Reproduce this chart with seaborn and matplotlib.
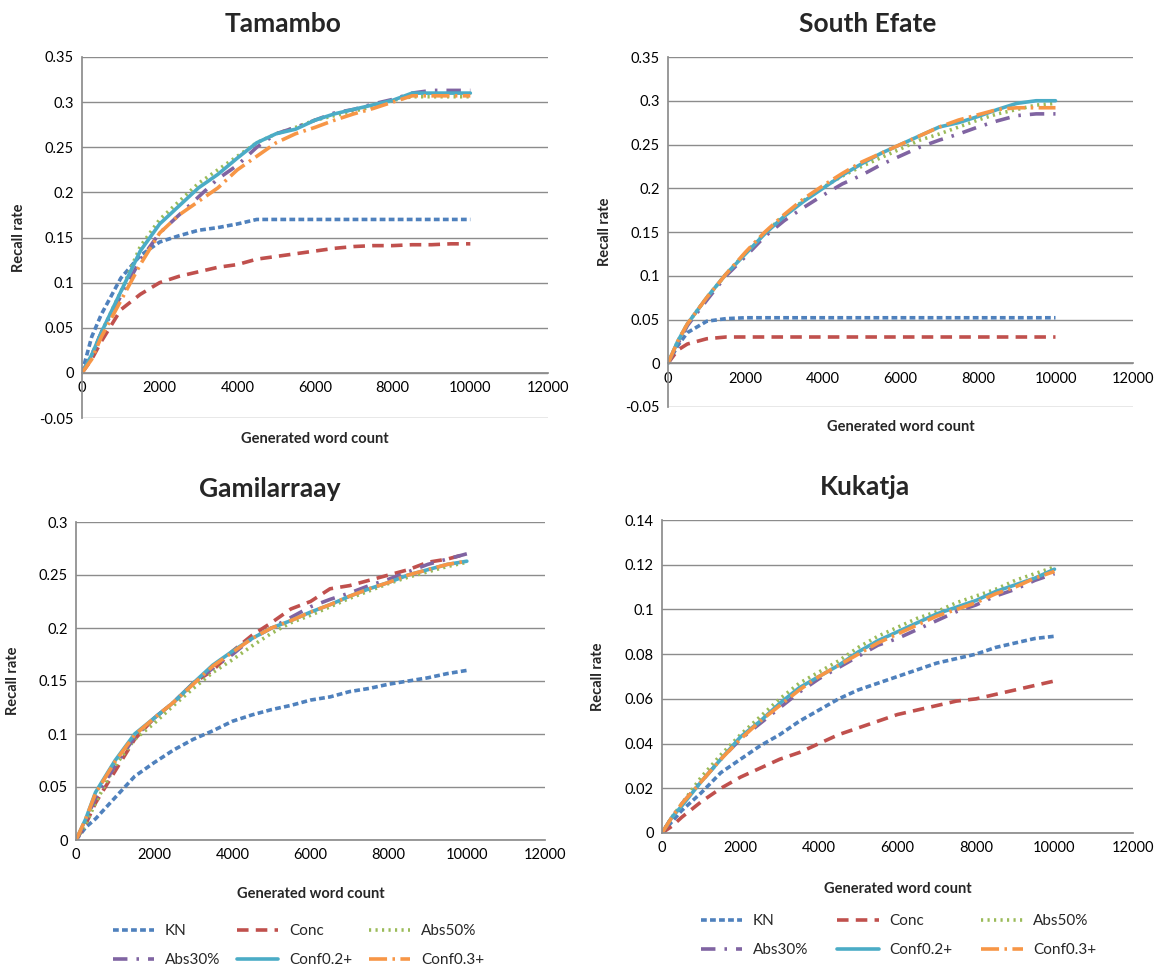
import pandas as pd
import matplotlib
matplotlib.use("Agg")
import matplotlib.pyplot as plt
import seaborn as sns

# word counts sampled along each curve
word_count = [0, 250, 500, 1000, 1500, 2000, 2500, 3000, 3500, 4000, 4500,
              5000, 5500, 6000, 6500, 7000, 7500, 8000, 8500, 9000, 9500, 10000]

methods = ["KN", "Conc", "Abs50%", "Abs30%", "Conf0.2+", "Conf0.3+"]

# Tamambo
tam_kn = [0, 0.04, 0.065, 0.105, 0.13, 0.145, 0.152, 0.158, 0.161, 0.165, 0.17,
          0.17, 0.17, 0.17, 0.17, 0.17, 0.17, 0.17, 0.17, 0.17, 0.17, 0.17]
tam_conc = [0, 0.015, 0.035, 0.07, 0.087, 0.1, 0.107, 0.112, 0.117, 0.12, 0.126,
            0.129, 0.132, 0.135, 0.138, 0.14, 0.141, 0.141, 0.142, 0.142, 0.143, 0.143]
tam_abs50 = [0, 0.02, 0.045, 0.09, 0.14, 0.17, 0.19, 0.21, 0.225, 0.24, 0.255,
             0.265, 0.272, 0.28, 0.285, 0.29, 0.295, 0.302, 0.306, 0.306, 0.306, 0.306]
tam_abs30 = [0, 0.02, 0.045, 0.085, 0.125, 0.155, 0.175, 0.195, 0.215, 0.23, 0.25,
             0.265, 0.272, 0.28, 0.288, 0.292, 0.298, 0.303, 0.31, 0.313, 0.313, 0.313]
tam_conf2 = [0, 0.02, 0.045, 0.09, 0.135, 0.165, 0.185, 0.205, 0.22, 0.238, 0.255,
             0.265, 0.27, 0.28, 0.287, 0.292, 0.297, 0.302, 0.31, 0.31, 0.31, 0.31]
tam_conf3 = [0, 0.015, 0.04, 0.08, 0.12, 0.155, 0.175, 0.19, 0.205, 0.225, 0.24,
             0.255, 0.265, 0.272, 0.28, 0.287, 0.293, 0.3, 0.307, 0.307, 0.307, 0.307]

# South Efate
se_kn = [0, 0.02, 0.035, 0.048, 0.051, 0.052, 0.052, 0.052, 0.052, 0.052, 0.052,
         0.052, 0.052, 0.052, 0.052, 0.052, 0.052, 0.052, 0.052, 0.052, 0.052, 0.052]
se_conc = [0, 0.015, 0.022, 0.028, 0.03, 0.03, 0.03, 0.03, 0.03, 0.03, 0.03,
           0.03, 0.03, 0.03, 0.03, 0.03, 0.03, 0.03, 0.03, 0.03, 0.03, 0.03]
se_abs50 = [0, 0.025, 0.045, 0.075, 0.102, 0.126, 0.149, 0.169, 0.186, 0.201, 0.214,
            0.225, 0.235, 0.245, 0.255, 0.262, 0.27, 0.278, 0.285, 0.29, 0.295, 0.297]
se_abs30 = [0, 0.022, 0.043, 0.072, 0.1, 0.122, 0.145, 0.163, 0.178, 0.192, 0.205,
            0.215, 0.227, 0.237, 0.247, 0.255, 0.262, 0.27, 0.277, 0.283, 0.285, 0.285]
se_conf2 = [0, 0.025, 0.045, 0.075, 0.102, 0.125, 0.148, 0.168, 0.185, 0.2, 0.215,
            0.228, 0.24, 0.25, 0.26, 0.27, 0.275, 0.282, 0.29, 0.297, 0.3, 0.3]
se_conf3 = [0, 0.025, 0.045, 0.075, 0.102, 0.127, 0.15, 0.17, 0.188, 0.203, 0.217,
            0.23, 0.24, 0.25, 0.26, 0.27, 0.278, 0.284, 0.29, 0.292, 0.292, 0.292]

# Gamilarraay
gam_kn = [0, 0.012, 0.02, 0.04, 0.06, 0.073, 0.085, 0.095, 0.103, 0.112, 0.118,
          0.123, 0.127, 0.132, 0.135, 0.14, 0.143, 0.147, 0.15, 0.153, 0.157, 0.16]
gam_conc = [0, 0.015, 0.035, 0.065, 0.095, 0.115, 0.13, 0.148, 0.16, 0.178, 0.193,
            0.205, 0.218, 0.225, 0.237, 0.24, 0.245, 0.25, 0.255, 0.262, 0.265, 0.27]
gam_abs50 = [0, 0.015, 0.035, 0.07, 0.095, 0.11, 0.127, 0.143, 0.158, 0.17, 0.183,
             0.195, 0.205, 0.212, 0.22, 0.228, 0.235, 0.242, 0.248, 0.253, 0.258, 0.262]
gam_abs30 = [0, 0.018, 0.04, 0.07, 0.097, 0.115, 0.13, 0.148, 0.162, 0.175, 0.19,
             0.2, 0.21, 0.22, 0.227, 0.233, 0.24, 0.246, 0.253, 0.26, 0.265, 0.27]
gam_conf2 = [0, 0.02, 0.045, 0.075, 0.1, 0.115, 0.13, 0.148, 0.165, 0.178, 0.19,
             0.2, 0.207, 0.215, 0.222, 0.23, 0.237, 0.243, 0.25, 0.255, 0.26, 0.263]
gam_conf3 = [0, 0.02, 0.044, 0.074, 0.099, 0.115, 0.13, 0.147, 0.164, 0.177, 0.19,
             0.2, 0.207, 0.215, 0.222, 0.23, 0.237, 0.243, 0.25, 0.255, 0.26, 0.263]

# Kukatja
kuk_kn = [0, 0.005, 0.01, 0.018, 0.027, 0.033, 0.039, 0.044, 0.05, 0.055, 0.06,
          0.064, 0.067, 0.07, 0.073, 0.076, 0.078, 0.08, 0.083, 0.085, 0.087, 0.088]
kuk_conc = [0, 0.003, 0.007, 0.014, 0.02, 0.025, 0.029, 0.033, 0.036, 0.04, 0.044,
            0.047, 0.05, 0.053, 0.055, 0.057, 0.059, 0.06, 0.062, 0.064, 0.066, 0.068]
kuk_abs50 = [0, 0.007, 0.013, 0.025, 0.035, 0.044, 0.052, 0.06, 0.067, 0.072, 0.077,
             0.083, 0.088, 0.092, 0.096, 0.099, 0.103, 0.106, 0.109, 0.113, 0.116, 0.119]
kuk_abs30 = [0, 0.007, 0.013, 0.023, 0.033, 0.042, 0.049, 0.056, 0.063, 0.069, 0.074,
             0.079, 0.084, 0.087, 0.091, 0.095, 0.099, 0.102, 0.106, 0.109, 0.113, 0.116]
kuk_conf2 = [0, 0.007, 0.012, 0.023, 0.033, 0.043, 0.05, 0.058, 0.065, 0.07, 0.075,
             0.081, 0.086, 0.09, 0.094, 0.098, 0.101, 0.104, 0.108, 0.111, 0.114, 0.118]
kuk_conf3 = [0, 0.007, 0.013, 0.023, 0.033, 0.042, 0.05, 0.057, 0.064, 0.07, 0.075,
             0.08, 0.085, 0.089, 0.093, 0.097, 0.1, 0.103, 0.107, 0.11, 0.114, 0.117]

colors = {"KN": "#4F81BD", "Conc": "#C0504D", "Abs50%": "#9BBB59",
          "Abs30%": "#8064A2", "Conf0.2+": "#4BACC6", "Conf0.3+": "#F79646"}
dashes = {"KN": (1.6, 0.9), "Conc": (3.2, 2.0), "Abs50%": (0.6, 1.2),
          "Abs30%": (4, 2.5, 0.7, 2.5), "Conf0.2+": "", "Conf0.3+": (5, 1.5, 0.7, 1.5)}


def make_frame(series):
    rows = []
    for name, vals in zip(methods, series):
        for x, y in zip(word_count, vals):
            rows.append({"count": x, "recall": y, "method": name})
    return pd.DataFrame(rows)


sns.set_theme(style="white")
plt.rcParams["font.family"] = ["Lato", "DejaVu Sans"]

fig = plt.figure(figsize=(11.57, 9.74), dpi=100)
W, H = 1157, 974

# (title, data, ymin, ymax, ystep, left, top, right, bottom, title x, xlabel y)
panels = [
    ("Tamambo", [tam_kn, tam_conc, tam_abs50, tam_abs30, tam_conf2, tam_conf3],
     -0.05, 0.35, 0.05, 82, 57, 548, 418, 0.431, -0.04),
    ("South Efate", [se_kn, se_conc, se_abs50, se_abs30, se_conf2, se_conf3],
     -0.05, 0.35, 0.05, 668, 57, 1133, 407, 0.43, -0.038),
    ("Gamilarraay", [gam_kn, gam_conc, gam_abs50, gam_abs30, gam_conf2, gam_conf3],
     0, 0.3, 0.05, 76, 522, 545, 840, 0.414, -0.148),
    ("Kukatja", [kuk_kn, kuk_conc, kuk_abs50, kuk_abs30, kuk_conf2, kuk_conf3],
     0, 0.14, 0.02, 662, 520, 1133, 833, 0.431, -0.157),
]

# legend placement (left, top in pixels, column spacing)
legend_spots = {2: (113, 924, 1.1), 3: (701, 914, 1.9)}

for i, (title, series, ymin, ymax, ystep, l, t, r, b, tx, ly) in enumerate(panels):
    ax = fig.add_axes([l / W, 1 - b / H, (r - l) / W, (b - t) / H])
    df = make_frame(series)
    sns.lineplot(data=df, x="count", y="recall", hue="method", style="method",
                 palette=colors, dashes=dashes, linewidth=2.6, ax=ax,
                 legend=(i >= 2), hue_order=methods, style_order=methods)
    ax.set_xlim(0, 12000)
    ax.set_ylim(ymin, ymax)
    ax.set_xticks(range(0, 12001, 2000))
    nticks = int(round((ymax - ymin) / ystep)) + 1
    yt = [round(ymin + k * ystep, 3) for k in range(nticks)]
    ax.set_yticks(yt)
    ax.set_yticklabels([("%g" % v) for v in yt])
    ax.yaxis.grid(True, color="#8c8c8c", linewidth=1)
    ax.xaxis.grid(False)
    for s in ["top", "right"]:
        ax.spines[s].set_visible(False)
    ax.spines["left"].set_color("#8c8c8c")
    ax.spines["bottom"].set_color("#8c8c8c")
    ax.spines["bottom"].set_position(("data", 0))
    ax.tick_params(length=0, labelsize=10.5, colors="black", pad=6)
    ax.set_title(title, fontsize=19, fontweight="bold", pad=18, x=tx)
    ax.set_ylabel("Recall rate", fontsize=10.5, fontweight="bold")
    ax.set_xlabel("Generated word count", fontsize=10.5, fontweight="bold")
    ax.xaxis.set_label_coords(0.5, ly)
    ax.yaxis.set_label_coords(-0.12, 0.5)
    if i >= 2:
        handles, labels = ax.get_legend_handles_labels()
        lookup = dict(zip(labels, handles))
        # matplotlib fills legend columns first, so reorder for row-wise layout
        order = ["KN", "Abs30%", "Conc", "Conf0.2+", "Abs50%", "Conf0.3+"]
        ax.get_legend().remove()
        lx, ltop, cs = legend_spots[i]
        ax.legend([lookup[k] for k in order], order, loc="upper left",
                  bbox_to_anchor=(lx / W, 1 - ltop / H), bbox_transform=fig.transFigure,
                  ncol=3, frameon=False, fontsize=11, borderpad=0, borderaxespad=0,
                  handlelength=2.7, handletextpad=0.7, columnspacing=cs,
                  labelspacing=1.0)

fig.savefig("out.png", dpi=100)
